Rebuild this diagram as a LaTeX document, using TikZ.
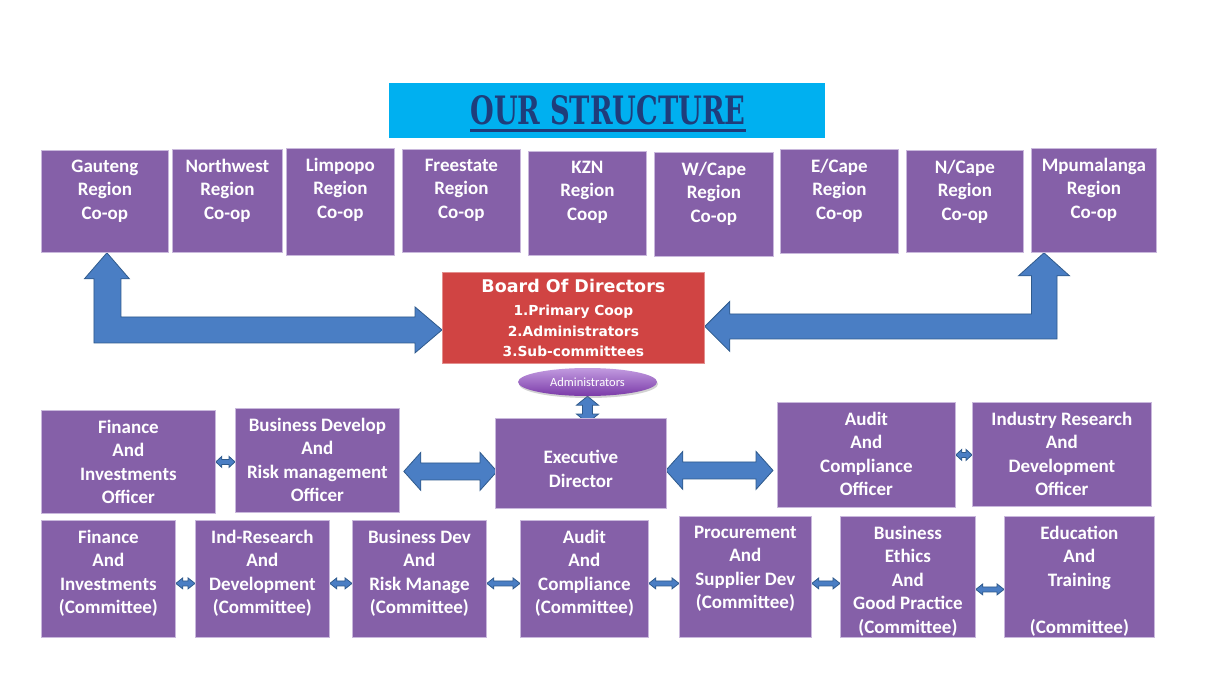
\documentclass[tikz,border=0pt]{standalone}
\usepackage{fontspec}
\newfontfamily\boxfont{Carlito}
\newfontfamily\boardfont{DejaVu Sans}
\newfontfamily\titlefont{DejaVu Serif}
\usetikzlibrary{positioning, calc, shapes.geometric, shadows, backgrounds}

\definecolor{boxpurple}{HTML}{8560A8}
\definecolor{boxedge}{HTML}{C9B8DC}
\definecolor{arrowblue}{HTML}{4A7EC4}
\definecolor{arrowedge}{HTML}{2F5A8C}
\definecolor{boardred}{HTML}{D04443}
\definecolor{titlecyan}{HTML}{00B0F0}
\definecolor{titleblue}{HTML}{1F3D7B}
\definecolor{admtop}{HTML}{C29BE0}
\definecolor{admbottom}{HTML}{7A3AA8}

% horizontal block arrow with two heads: left tip, right tip, shaft half width, head half width, head length
\newcommand{\hdblarrow}[5]{%
  \filldraw[blockarrow] (#1) -- ++(#5,-#4) -- ++(0,#4-#3) -- ($(#2)+(-#5,-#3)$) -- ++(0,#3-#4) -- (#2)
    -- ++(-#5,#4) -- ++(0,#3-#4) -- ($(#1)+(#5,#3)$) -- ++(0,#4-#3) -- cycle;}
% vertical block arrow with two heads: top tip, bottom tip, shaft half width, head half width, head length
\newcommand{\vdblarrow}[5]{%
  \filldraw[blockarrow] (#1) -- ++(#4,#5) -- ++(#3-#4,0) -- ($(#2)+(#3,-#5)$) -- ++(#4-#3,0) -- (#2)
    -- ++(-#4,-#5) -- ++(#4-#3,0) -- ($(#1)+(-#3,#5)$) -- ++(#3-#4,0) -- cycle;}

\begin{document}
\begin{tikzpicture}[
    x=1pt, y=-1pt,
    box/.style={draw=boxedge, fill=boxpurple, line width=0.8pt, anchor=north west, inner sep=0pt},
    txt/.style={anchor=north, align=center, text=white, inner sep=0pt, yshift=-9.5pt,
        font=\boxfont\bfseries\fontsize{19}{23.5}\selectfont},
    board/.style={draw=boardred!60!white, fill=boardred, line width=0.8pt, anchor=north west,
        align=center, text=white, inner sep=0pt, font=\boardfont\bfseries\fontsize{13.8}{20.5}\selectfont},
    admin/.style={ellipse, minimum width=139, minimum height=28, inner sep=0pt,
        top color=admtop, bottom color=admbottom, text=white,
        drop shadow={opacity=0.35, shadow xshift=1pt, shadow yshift=-2pt},
        font=\boxfont\fontsize{12.5}{14}\selectfont},
    blockarrow/.style={fill=arrowblue, draw=arrowedge, line width=0.8pt, line join=miter},
]
    \useasboundingbox (0,0) rectangle (1206,680);

    % Title
    \node[fill=titlecyan, minimum width=436, minimum height=55, anchor=north west, inner sep=0pt] (title) at (389,83) {};
    \node[text=titleblue, inner sep=0pt] (ttext) at (608,110.5) {\resizebox{275pt}{29pt}{\titlefont\bfseries OUR STRUCTURE}};
    \draw[titleblue, line width=2.5pt] ($(ttext.south west)+(0,5)$) -- ($(ttext.south east)+(0,5)$);

    % Regions
    \node[box, minimum width=127, minimum height=102, label={[txt]north:{Gauteng\\Region\\Co-op}}] (gau) at (41,150) {};
    \node[box, minimum width=110, minimum height=103, label={[txt]north:{Northwest\\Region\\Co-op}}] (nwr) at (172,149) {};
    \node[box, minimum width=108, minimum height=107, label={[txt]north:{Limpopo\\Region\\Co-op}}] (lim) at (286,148) {};
    \node[box, minimum width=118, minimum height=103, label={[txt]north:{Freestate\\Region\\Co-op}}] (fst) at (402,149) {};
    \node[box, minimum width=118, minimum height=104, label={[txt]north:{KZN\\Region\\Coop}}] (kzn) at (528,151) {};
    \node[box, minimum width=119, minimum height=104, label={[txt]north:{W/Cape\\Region\\Co-op}}] (wca) at (654,152) {};
    \node[box, minimum width=118, minimum height=104, label={[txt]north:{E/Cape\\Region\\Co-op}}] (eca) at (780,149) {};
    \node[box, minimum width=117, minimum height=102, label={[txt]north:{N/Cape\\Region\\Co-op}}] (nca) at (906,150) {};
    \node[box, minimum width=125, minimum height=104, label={[txt]north:{Mpumalanga\\Region\\Co-op}}] (mpu) at (1031,148) {};

    % Board
    \node[board, minimum width=262, minimum height=91] (board) at (442,272)
        {{\fontsize{17.5}{20}\selectfont Board Of Directors}\\[3pt]1.Primary Coop\\2.Administrators\\3.Sub-committees};
    \node[admin] (adm) at (587.5,382) {Administrators};

    % Officers
    \node[box, minimum width=174, minimum height=103, label={[txt]north:{Finance\\And\\Investments\\Officer}}] (fio) at (41,410) {};
    \node[box, minimum width=164, minimum height=104, label={[txt]north:{Business Develop\\And\\Risk management\\Officer}}] (bdo) at (235,408) {};
    \node[box, minimum width=171, minimum height=90, label={[txt, yshift=-22.5pt]north:{Executive\\Director}}] (exd) at (495,418) {};
    \node[box, minimum width=178, minimum height=105, label={[txt]north:{Audit\\And\\Compliance\\Officer}}] (aco) at (777,402) {};
    \node[box, minimum width=179, minimum height=104, label={[txt]north:{Industry Research\\And\\Development\\Officer}}] (ird) at (972,402) {};

    % Committees
    \node[box, minimum width=134, minimum height=117, label={[txt]north:{Finance\\And\\Investments\\(Committee)}}] (fic) at (41,520) {};
    \node[box, minimum width=134, minimum height=117, label={[txt]north:{Ind-Research\\And\\Development\\(Committee)}}] (irc) at (195,520) {};
    \node[box, minimum width=134, minimum height=117, label={[txt]north:{Business Dev\\And\\Risk Manage\\(Committee)}}] (bdc) at (352,520) {};
    \node[box, minimum width=128, minimum height=117, label={[txt]north:{Audit\\And\\Compliance\\(Committee)}}] (acc) at (520,520) {};
    \node[box, minimum width=132, minimum height=121, label={[txt]north:{Procurement\\And\\Supplier Dev\\(Committee)}}] (pcc) at (679,516) {};
    \node[box, minimum width=135, minimum height=121, label={[txt]north:{Business\\Ethics\\And\\Good Practice\\(Committee)}}] (bec) at (840,516) {};
    \node[box, minimum width=150, minimum height=121, label={[txt]north:{Education\\And\\Training\\[23.5pt](Committee)}}] (edc) at (1004,516) {};

    % Arrows
    \begin{scope}[on background layer]
        \fill[white] (0,0) rectangle (1206,680);

        % board to regions
        \coordinate (lt) at ($(gau.south)+(2,0)$);
        \coordinate (lh) at ($(board.west)+(0,12)$);
        \filldraw[blockarrow] (lt) -- ++(22.5,26) -- ++(-8.5,0) |- ($(lh)+(-27,-13)$) -- ++(0,-10) -- (lh)
            -- ++(-27,23) -- ++(0,-10) -| ($(lt)+(-13,26)$) -- ++(-9.5,0) -- cycle;
        \coordinate (rt) at ($(mpu.south west)+(13,0)$);
        \coordinate (rh) at ($(board.east)+(0,8.5)$);
        \filldraw[blockarrow] (rt) -- ++(25.5,23) -- ++(-12.5,0) |- ($(rh)+(25,12.5)$) -- ++(0,12.5) -- (rh)
            -- ++(25,-25) -- ++(0,12.5) -| ($(rt)+(-12.5,23)$) -- ++(-13,0) -- cycle;

        % administrators to director
        \coordinate (v1) at (adm.south);
        \coordinate (v2) at ($(exd.north -| v1)+(0,5)$);
        \vdblarrow{v1}{v2}{5}{11}{9}

        % director to officers
        \coordinate (l1) at ($(bdo.east)+(4,11)$);
        \coordinate (l2) at ($(exd.west)+(2,8)$);
        \hdblarrow{l1}{l2}{8.5}{19}{17}
        \coordinate (r1) at ($(exd.east)+(-1,7)$);
        \coordinate (r2) at ($(aco.west)+(-4,15.5)$);
        \hdblarrow{r1}{r2}{8.5}{19}{17}

        % between officers
        \coordinate (s1) at (fio.east);
        \coordinate (s2) at (bdo.west |- s1);
        \hdblarrow{s1}{s2}{2.5}{5.5}{6}
        \coordinate (s3) at (aco.east);
        \coordinate (s4) at (ird.west |- s3);
        \hdblarrow{s3}{s4}{2.5}{5.5}{6}

        % between committees
        \foreach \a/\b/\dy in {fic/irc/4.5, irc/bdc/4.5, bdc/acc/4.5, acc/pcc/4.5, pcc/bec/6.5, bec/edc/12.5} {
            \coordinate (p1) at ($(\a.east)+(0,\dy)$);
            \coordinate (p2) at (\b.west |- p1);
            \hdblarrow{p1}{p2}{2.5}{5.5}{7}
        }
    \end{scope}
\end{tikzpicture}
\end{document}
